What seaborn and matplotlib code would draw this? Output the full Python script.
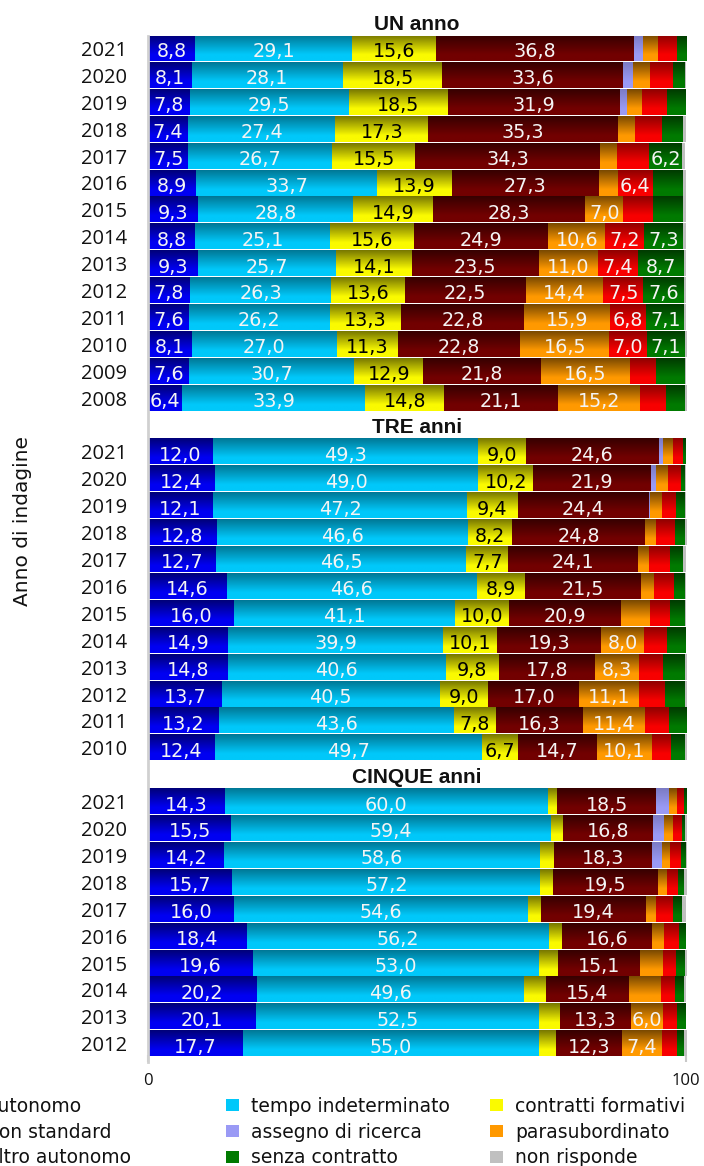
import numpy as np
import pandas as pd
import matplotlib
matplotlib.use('Agg')
import matplotlib.pyplot as plt
import seaborn as sns
from matplotlib.patches import Patch
from matplotlib.colors import to_rgb

# categorie (ordine di impilamento)
categorie = ['autonomo', 'tempo indeterminato', 'contratti formativi', 'non standard',
             'assegno di ricerca', 'parasubordinato', 'altro autonomo',
             'senza contratto', 'non risponde']
colori = ['#0000f2', '#00c8fa', '#fafa00', '#720000', '#9a9af5',
          '#ff9900', '#f80000', '#007a00', '#c0c0c0']
# quanto è scura la parte alta della barra (gradiente verticale)
scuro = [0.5, 0.6, 0.48, 0.48, 0.8, 0.48, 0.58, 0.48, 1.0]

# UN anno
un_anni = ['2021', '2020', '2019', '2018', '2017', '2016', '2015',
           '2014', '2013', '2012', '2011', '2010', '2009', '2008']
un_valori = [
    [8.8, 8.1, 7.8, 7.4, 7.5, 8.9, 9.3, 8.8, 9.3, 7.8, 7.6, 8.1, 7.6, 6.4],
    [29.1, 28.1, 29.5, 27.4, 26.7, 33.7, 28.8, 25.1, 25.7, 26.3, 26.2, 27.0, 30.7, 33.9],
    [15.6, 18.5, 18.5, 17.3, 15.5, 13.9, 14.9, 15.6, 14.1, 13.6, 13.3, 11.3, 12.9, 14.8],
    [36.8, 33.6, 31.9, 35.3, 34.3, 27.3, 28.3, 24.9, 23.5, 22.5, 22.8, 22.8, 21.8, 21.1],
    [1.7, 1.9, 1.3, 0, 0, 0, 0, 0, 0, 0, 0, 0, 0, 0],
    [2.8, 3.1, 2.9, 3.2, 3.2, 3.6, 7.0, 10.6, 11.0, 14.4, 15.9, 16.5, 16.5, 15.2],
    [3.5, 4.3, 4.6, 4.9, 5.9, 6.4, 5.6, 7.2, 7.4, 7.5, 6.8, 7.0, 5.0, 4.9],
    [1.7, 2.3, 3.5, 4.0, 6.2, 5.7, 5.6, 7.3, 8.7, 7.6, 7.1, 7.1, 5.4, 3.5],
    [0.0, 0.1, 0.0, 0.5, 0.5, 0.5, 0.5, 0.5, 0.3, 0.3, 0.3, 0.2, 0.1, 0.2],
]

# TRE anni
tre_anni = ['2021', '2020', '2019', '2018', '2017', '2016', '2015',
            '2014', '2013', '2012', '2011', '2010']
tre_valori = [
    [12.0, 12.4, 12.1, 12.8, 12.7, 14.6, 16.0, 14.9, 14.8, 13.7, 13.2, 12.4],
    [49.3, 49.0, 47.2, 46.6, 46.5, 46.6, 41.1, 39.9, 40.6, 40.5, 43.6, 49.7],
    [9.0, 10.2, 9.4, 8.2, 7.7, 8.9, 10.0, 10.1, 9.8, 9.0, 7.8, 6.7],
    [24.6, 21.9, 24.4, 24.8, 24.1, 21.5, 20.9, 19.3, 17.8, 17.0, 16.3, 14.7],
    [0.9, 0.9, 0.3, 0, 0, 0, 0, 0, 0, 0, 0, 0],
    [1.8, 2.3, 2.1, 2.0, 2.2, 2.5, 5.4, 8.0, 8.3, 11.1, 11.4, 10.1],
    [1.9, 2.4, 2.7, 3.5, 3.8, 3.6, 3.7, 4.3, 4.5, 4.8, 4.5, 3.7],
    [0.6, 0.8, 1.7, 1.9, 2.5, 2.2, 2.8, 3.5, 4.0, 3.7, 3.2, 2.5],
    [0.1, 0.1, 0.1, 0.2, 0.5, 0.1, 0.1, 0.0, 0.2, 0.2, 0.0, 0.2],
]

# CINQUE anni
cinque_anni = ['2021', '2020', '2019', '2018', '2017', '2016', '2015', '2014', '2013', '2012']
cinque_valori = [
    [14.3, 15.5, 14.2, 15.7, 16.0, 18.4, 19.6, 20.2, 20.1, 17.7],
    [60.0, 59.4, 58.6, 57.2, 54.6, 56.2, 53.0, 49.6, 52.5, 55.0],
    [1.7, 2.2, 2.6, 2.4, 2.5, 2.4, 3.7, 4.2, 3.9, 3.1],
    [18.5, 16.8, 18.3, 19.5, 19.4, 16.6, 15.1, 15.4, 13.3, 12.3],
    [2.3, 2.1, 1.8, 0, 0, 0, 0, 0, 0, 0],
    [1.5, 1.6, 1.5, 1.7, 2.0, 2.4, 4.4, 5.9, 6.0, 7.4],
    [1.3, 1.7, 2.1, 2.1, 3.0, 2.7, 2.3, 2.7, 2.6, 2.8],
    [0.4, 0.5, 0.9, 1.0, 1.8, 1.3, 1.7, 1.7, 1.6, 1.3],
    [0.0, 0.2, 0.1, 0.5, 0.7, 0.0, 0.2, 0.2, 0.0, 0.4],
]

pannelli = [('UN anno', un_anni, un_valori),
            ('TRE anni', tre_anni, tre_valori),
            ('CINQUE anni', cinque_anni, cinque_valori)]

# tabella lunga: una riga per (pannello, anno, categoria)
righe = []
riga = 0
for titolo, anni, valori in pannelli:
    riga += 1  # riga del titolo
    for i, anno in enumerate(anni):
        sinistra = 0.0
        for k, cat in enumerate(categorie):
            v = valori[k][i]
            righe.append(dict(pannello=titolo, anno=anno, pos=riga + i, categoria=cat,
                              k=k, valore=v, sinistra=sinistra))
            sinistra += v
    riga += len(anni)
df = pd.DataFrame(righe)

sns.set_theme(style='white')
plt.rcParams['font.family'] = ['DejaVu Sans']

fig = plt.figure(figsize=(7.04, 11.66), dpi=100)
ax = fig.add_axes([148 / 704, 104 / 1166, 538 / 704, 1026 / 1166])


def gradiente(rect, colore, f_top):
    # sfumatura verticale: scuro in alto, colore pieno in basso
    x0, y0 = rect.get_x(), rect.get_y()
    w, h = rect.get_width(), rect.get_height()
    if w <= 0:
        return
    base = np.array(to_rgb(colore))
    t = np.linspace(0, 1, 40)[:, None]
    f = np.clip(f_top + (1 - f_top) * t / 0.75, 0, 1)
    img = (base[None, :] * f)[:, None, :]
    ax.imshow(img, extent=(x0, x0 + w, y0 + h, y0), aspect='auto',
              interpolation='bilinear', zorder=2)


altezza = 0.93
for k, cat in enumerate(categorie):
    sub = df[df['k'] == k]
    barre = ax.barh(sub['pos'], sub['valore'], left=sub['sinistra'], height=altezza,
                    color=colori[k], linewidth=0, zorder=1)
    for rect, (_, r) in zip(barre, sub.iterrows()):
        gradiente(rect, colori[k], scuro[k])
        if r['valore'] >= 6:
            colore_testo = 'black' if cat == 'contratti formativi' else '#f4f4f4'
            ax.text(r['sinistra'] + r['valore'] / 2, r['pos'] + 0.33,
                    f"{r['valore']:.1f}".replace('.', ','),
                    ha='center', va='baseline', fontsize=13.8, color=colore_testo, zorder=3)

# titoli delle sezioni
riga = 0
for titolo, anni, valori in pannelli:
    ax.text(50, riga + 0.31, titolo, ha='center', va='baseline', fontsize=15,
            fontweight='bold', family='Liberation Sans', color='#111111', clip_on=False)
    riga += len(anni) + 1

tick_pos = df.drop_duplicates('pos')['pos'].tolist()
tick_lab = df.drop_duplicates('pos')['anno'].tolist()
ax.set_yticks(tick_pos)
ax.set_yticklabels(tick_lab, fontsize=14.5, family='Open Sans', color='#111111')
ax.tick_params(axis='y', length=0, pad=15)

ax.set_xticks([0, 100])
ax.set_xticklabels(['0', '100'], fontsize=12, family='Open Sans', color='#111111')
ax.tick_params(axis='x', direction='in', length=5, width=1.5, color='#c8c8c8', pad=8, bottom=True)

ax.set_xlim(0, 100)
ax.set_ylim(38.68, 0.535)
sns.despine(ax=ax, left=False, bottom=True)
ax.spines['left'].set_color('#d0d0d0')
ax.spines['left'].set_linewidth(2)

fig.text(23 / 704, 1 - 521 / 1166, 'Anno di indagine', rotation=90,
         ha='center', va='center', fontsize=14.5, color='#111111')

# legenda su tre colonne (la prima esce dal bordo sinistro come nell'originale)
colonne = [[0, 3, 6], [1, 4, 7], [2, 5, 8]]
x_col = [-38, 226, 490]
for xc, idx in zip(x_col, colonne):
    maniglie = [Patch(facecolor=colori[i], edgecolor='none') for i in idx]
    fig.legend(maniglie, [categorie[i] for i in idx], loc='center left',
               bbox_to_anchor=(xc / 704, 1 - 1132 / 1166), frameon=False,
               fontsize=13.5, borderpad=0, borderaxespad=0, handlelength=0.69,
               handleheight=0.64, handletextpad=0.64, labelspacing=0.37,
               labelcolor='#111111')

fig.savefig('out.png', dpi=100)
